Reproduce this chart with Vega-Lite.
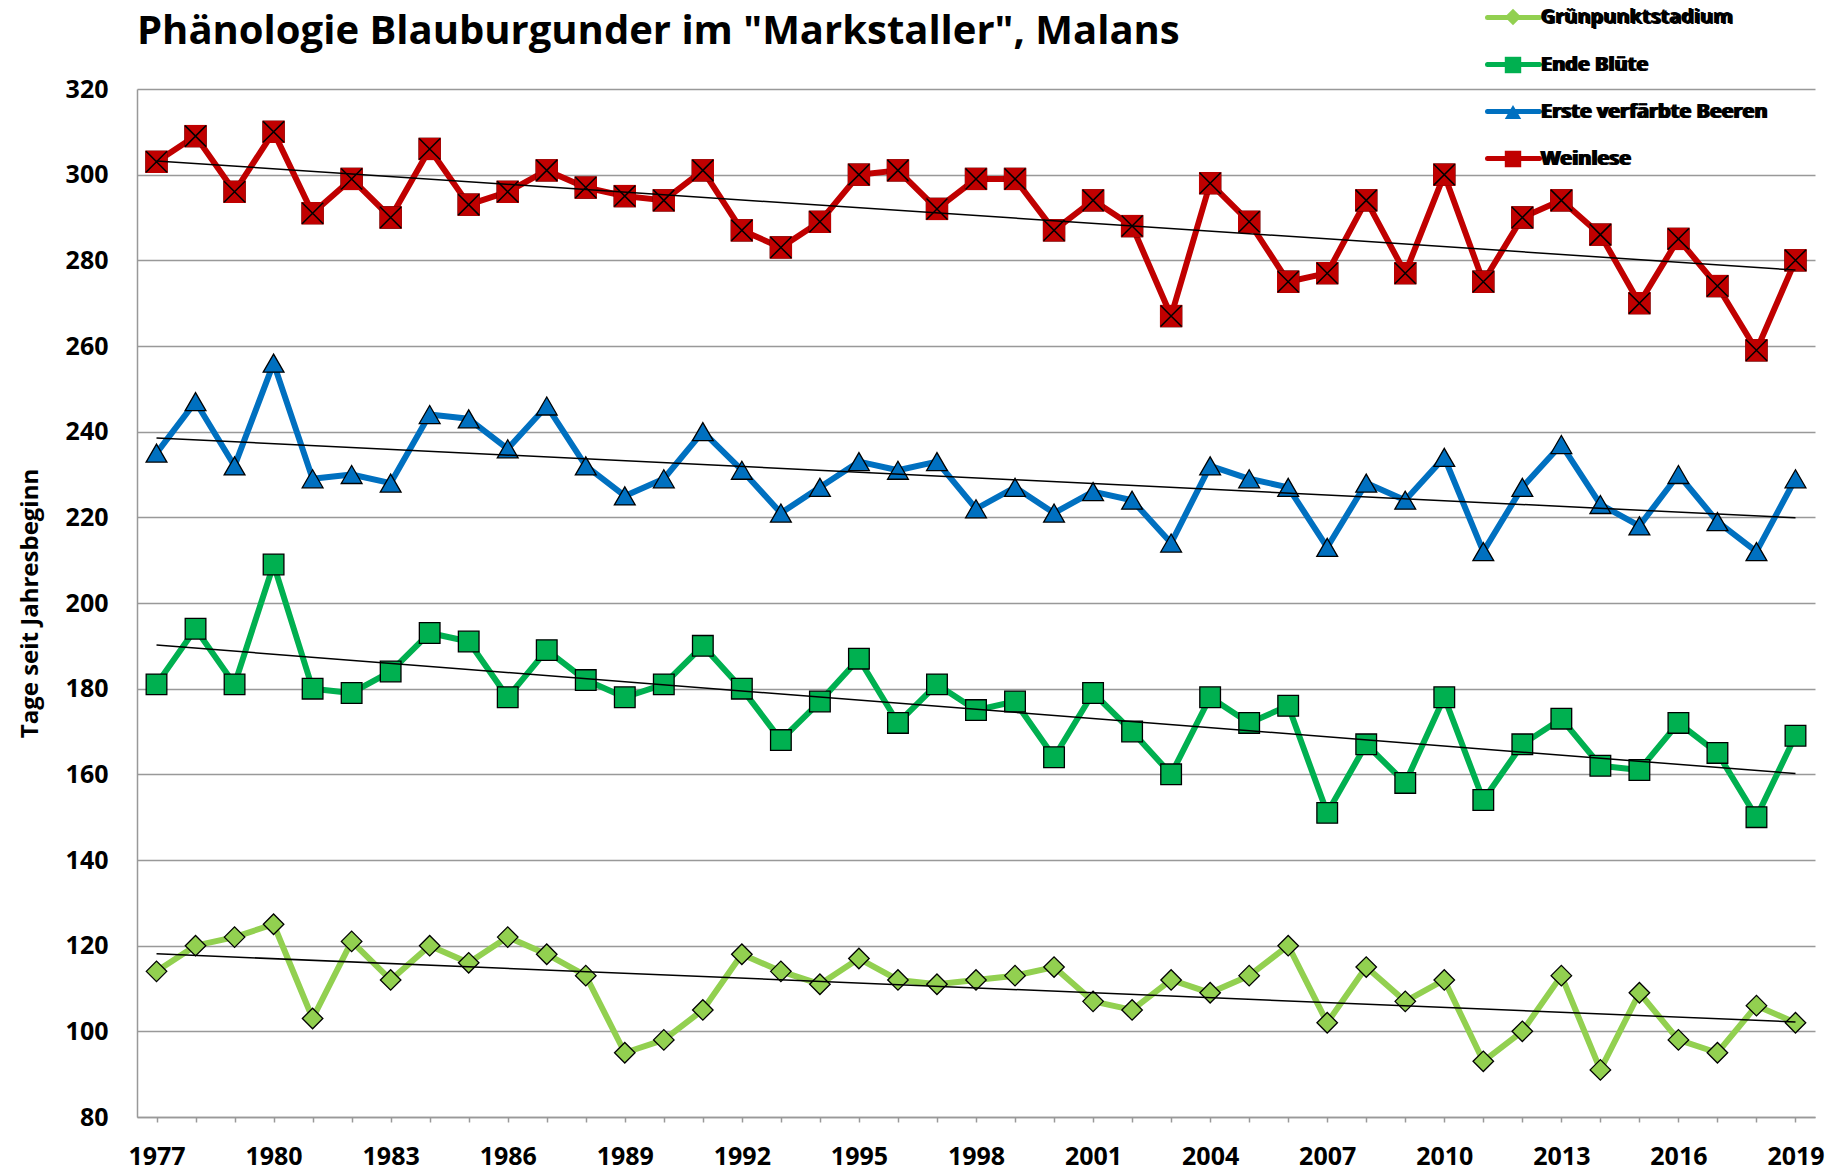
{
  "$schema": "https://vega.github.io/schema/vega-lite/v6.json",
  "width": 1678,
  "height": 1028,
  "autosize": {"type": "none"},
  "padding": {"left": 137, "top": 89, "right": 25, "bottom": 56},
  "background": "white",
  "title": {
    "text": "Phänologie Blauburgunder im \"Markstaller\", Malans",
    "anchor": "start",
    "frame": "group",
    "font": "Open Sans",
    "fontSize": 40,
    "fontWeight": "bold",
    "color": "#000000",
    "baseline": "alphabetic",
    "offset": 0,
    "dy": 95
  },
  "config": {
    "view": {"stroke": null},
    "axis": {"labelColor": "#000000", "titleColor": "#000000"}
  },
  "data": {"values": [
    {"Jahr":1977,"Stadium":"Grünpunktstadium","Tage":114},{"Jahr":1978,"Stadium":"Grünpunktstadium","Tage":120},{"Jahr":1979,"Stadium":"Grünpunktstadium","Tage":122},{"Jahr":1980,"Stadium":"Grünpunktstadium","Tage":125},{"Jahr":1981,"Stadium":"Grünpunktstadium","Tage":103},{"Jahr":1982,"Stadium":"Grünpunktstadium","Tage":121},{"Jahr":1983,"Stadium":"Grünpunktstadium","Tage":112},{"Jahr":1984,"Stadium":"Grünpunktstadium","Tage":120},{"Jahr":1985,"Stadium":"Grünpunktstadium","Tage":116},{"Jahr":1986,"Stadium":"Grünpunktstadium","Tage":122},{"Jahr":1987,"Stadium":"Grünpunktstadium","Tage":118},{"Jahr":1988,"Stadium":"Grünpunktstadium","Tage":113},{"Jahr":1989,"Stadium":"Grünpunktstadium","Tage":95},{"Jahr":1990,"Stadium":"Grünpunktstadium","Tage":98},{"Jahr":1991,"Stadium":"Grünpunktstadium","Tage":105},{"Jahr":1992,"Stadium":"Grünpunktstadium","Tage":118},{"Jahr":1993,"Stadium":"Grünpunktstadium","Tage":114},{"Jahr":1994,"Stadium":"Grünpunktstadium","Tage":111},{"Jahr":1995,"Stadium":"Grünpunktstadium","Tage":117},{"Jahr":1996,"Stadium":"Grünpunktstadium","Tage":112},{"Jahr":1997,"Stadium":"Grünpunktstadium","Tage":111},{"Jahr":1998,"Stadium":"Grünpunktstadium","Tage":112},{"Jahr":1999,"Stadium":"Grünpunktstadium","Tage":113},{"Jahr":2000,"Stadium":"Grünpunktstadium","Tage":115},{"Jahr":2001,"Stadium":"Grünpunktstadium","Tage":107},{"Jahr":2002,"Stadium":"Grünpunktstadium","Tage":105},{"Jahr":2003,"Stadium":"Grünpunktstadium","Tage":112},{"Jahr":2004,"Stadium":"Grünpunktstadium","Tage":109},{"Jahr":2005,"Stadium":"Grünpunktstadium","Tage":113},{"Jahr":2006,"Stadium":"Grünpunktstadium","Tage":120},{"Jahr":2007,"Stadium":"Grünpunktstadium","Tage":102},{"Jahr":2008,"Stadium":"Grünpunktstadium","Tage":115},{"Jahr":2009,"Stadium":"Grünpunktstadium","Tage":107},{"Jahr":2010,"Stadium":"Grünpunktstadium","Tage":112},{"Jahr":2011,"Stadium":"Grünpunktstadium","Tage":93},{"Jahr":2012,"Stadium":"Grünpunktstadium","Tage":100},{"Jahr":2013,"Stadium":"Grünpunktstadium","Tage":113},{"Jahr":2014,"Stadium":"Grünpunktstadium","Tage":91},{"Jahr":2015,"Stadium":"Grünpunktstadium","Tage":109},{"Jahr":2016,"Stadium":"Grünpunktstadium","Tage":98},{"Jahr":2017,"Stadium":"Grünpunktstadium","Tage":95},{"Jahr":2018,"Stadium":"Grünpunktstadium","Tage":106},{"Jahr":2019,"Stadium":"Grünpunktstadium","Tage":102},
    {"Jahr":1977,"Stadium":"Ende Blüte","Tage":181},{"Jahr":1978,"Stadium":"Ende Blüte","Tage":194},{"Jahr":1979,"Stadium":"Ende Blüte","Tage":181},{"Jahr":1980,"Stadium":"Ende Blüte","Tage":209},{"Jahr":1981,"Stadium":"Ende Blüte","Tage":180},{"Jahr":1982,"Stadium":"Ende Blüte","Tage":179},{"Jahr":1983,"Stadium":"Ende Blüte","Tage":184},{"Jahr":1984,"Stadium":"Ende Blüte","Tage":193},{"Jahr":1985,"Stadium":"Ende Blüte","Tage":191},{"Jahr":1986,"Stadium":"Ende Blüte","Tage":178},{"Jahr":1987,"Stadium":"Ende Blüte","Tage":189},{"Jahr":1988,"Stadium":"Ende Blüte","Tage":182},{"Jahr":1989,"Stadium":"Ende Blüte","Tage":178},{"Jahr":1990,"Stadium":"Ende Blüte","Tage":181},{"Jahr":1991,"Stadium":"Ende Blüte","Tage":190},{"Jahr":1992,"Stadium":"Ende Blüte","Tage":180},{"Jahr":1993,"Stadium":"Ende Blüte","Tage":168},{"Jahr":1994,"Stadium":"Ende Blüte","Tage":177},{"Jahr":1995,"Stadium":"Ende Blüte","Tage":187},{"Jahr":1996,"Stadium":"Ende Blüte","Tage":172},{"Jahr":1997,"Stadium":"Ende Blüte","Tage":181},{"Jahr":1998,"Stadium":"Ende Blüte","Tage":175},{"Jahr":1999,"Stadium":"Ende Blüte","Tage":177},{"Jahr":2000,"Stadium":"Ende Blüte","Tage":164},{"Jahr":2001,"Stadium":"Ende Blüte","Tage":179},{"Jahr":2002,"Stadium":"Ende Blüte","Tage":170},{"Jahr":2003,"Stadium":"Ende Blüte","Tage":160},{"Jahr":2004,"Stadium":"Ende Blüte","Tage":178},{"Jahr":2005,"Stadium":"Ende Blüte","Tage":172},{"Jahr":2006,"Stadium":"Ende Blüte","Tage":176},{"Jahr":2007,"Stadium":"Ende Blüte","Tage":151},{"Jahr":2008,"Stadium":"Ende Blüte","Tage":167},{"Jahr":2009,"Stadium":"Ende Blüte","Tage":158},{"Jahr":2010,"Stadium":"Ende Blüte","Tage":178},{"Jahr":2011,"Stadium":"Ende Blüte","Tage":154},{"Jahr":2012,"Stadium":"Ende Blüte","Tage":167},{"Jahr":2013,"Stadium":"Ende Blüte","Tage":173},{"Jahr":2014,"Stadium":"Ende Blüte","Tage":162},{"Jahr":2015,"Stadium":"Ende Blüte","Tage":161},{"Jahr":2016,"Stadium":"Ende Blüte","Tage":172},{"Jahr":2017,"Stadium":"Ende Blüte","Tage":165},{"Jahr":2018,"Stadium":"Ende Blüte","Tage":150},{"Jahr":2019,"Stadium":"Ende Blüte","Tage":169},
    {"Jahr":1977,"Stadium":"Erste verfärbte Beeren","Tage":235},{"Jahr":1978,"Stadium":"Erste verfärbte Beeren","Tage":247},{"Jahr":1979,"Stadium":"Erste verfärbte Beeren","Tage":232},{"Jahr":1980,"Stadium":"Erste verfärbte Beeren","Tage":256},{"Jahr":1981,"Stadium":"Erste verfärbte Beeren","Tage":229},{"Jahr":1982,"Stadium":"Erste verfärbte Beeren","Tage":230},{"Jahr":1983,"Stadium":"Erste verfärbte Beeren","Tage":228},{"Jahr":1984,"Stadium":"Erste verfärbte Beeren","Tage":244},{"Jahr":1985,"Stadium":"Erste verfärbte Beeren","Tage":243},{"Jahr":1986,"Stadium":"Erste verfärbte Beeren","Tage":236},{"Jahr":1987,"Stadium":"Erste verfärbte Beeren","Tage":246},{"Jahr":1988,"Stadium":"Erste verfärbte Beeren","Tage":232},{"Jahr":1989,"Stadium":"Erste verfärbte Beeren","Tage":225},{"Jahr":1990,"Stadium":"Erste verfärbte Beeren","Tage":229},{"Jahr":1991,"Stadium":"Erste verfärbte Beeren","Tage":240},{"Jahr":1992,"Stadium":"Erste verfärbte Beeren","Tage":231},{"Jahr":1993,"Stadium":"Erste verfärbte Beeren","Tage":221},{"Jahr":1994,"Stadium":"Erste verfärbte Beeren","Tage":227},{"Jahr":1995,"Stadium":"Erste verfärbte Beeren","Tage":233},{"Jahr":1996,"Stadium":"Erste verfärbte Beeren","Tage":231},{"Jahr":1997,"Stadium":"Erste verfärbte Beeren","Tage":233},{"Jahr":1998,"Stadium":"Erste verfärbte Beeren","Tage":222},{"Jahr":1999,"Stadium":"Erste verfärbte Beeren","Tage":227},{"Jahr":2000,"Stadium":"Erste verfärbte Beeren","Tage":221},{"Jahr":2001,"Stadium":"Erste verfärbte Beeren","Tage":226},{"Jahr":2002,"Stadium":"Erste verfärbte Beeren","Tage":224},{"Jahr":2003,"Stadium":"Erste verfärbte Beeren","Tage":214},{"Jahr":2004,"Stadium":"Erste verfärbte Beeren","Tage":232},{"Jahr":2005,"Stadium":"Erste verfärbte Beeren","Tage":229},{"Jahr":2006,"Stadium":"Erste verfärbte Beeren","Tage":227},{"Jahr":2007,"Stadium":"Erste verfärbte Beeren","Tage":213},{"Jahr":2008,"Stadium":"Erste verfärbte Beeren","Tage":228},{"Jahr":2009,"Stadium":"Erste verfärbte Beeren","Tage":224},{"Jahr":2010,"Stadium":"Erste verfärbte Beeren","Tage":234},{"Jahr":2011,"Stadium":"Erste verfärbte Beeren","Tage":212},{"Jahr":2012,"Stadium":"Erste verfärbte Beeren","Tage":227},{"Jahr":2013,"Stadium":"Erste verfärbte Beeren","Tage":237},{"Jahr":2014,"Stadium":"Erste verfärbte Beeren","Tage":223},{"Jahr":2015,"Stadium":"Erste verfärbte Beeren","Tage":218},{"Jahr":2016,"Stadium":"Erste verfärbte Beeren","Tage":230},{"Jahr":2017,"Stadium":"Erste verfärbte Beeren","Tage":219},{"Jahr":2018,"Stadium":"Erste verfärbte Beeren","Tage":212},{"Jahr":2019,"Stadium":"Erste verfärbte Beeren","Tage":229},
    {"Jahr":1977,"Stadium":"Weinlese","Tage":303},{"Jahr":1978,"Stadium":"Weinlese","Tage":309},{"Jahr":1979,"Stadium":"Weinlese","Tage":296},{"Jahr":1980,"Stadium":"Weinlese","Tage":310},{"Jahr":1981,"Stadium":"Weinlese","Tage":291},{"Jahr":1982,"Stadium":"Weinlese","Tage":299},{"Jahr":1983,"Stadium":"Weinlese","Tage":290},{"Jahr":1984,"Stadium":"Weinlese","Tage":306},{"Jahr":1985,"Stadium":"Weinlese","Tage":293},{"Jahr":1986,"Stadium":"Weinlese","Tage":296},{"Jahr":1987,"Stadium":"Weinlese","Tage":301},{"Jahr":1988,"Stadium":"Weinlese","Tage":297},{"Jahr":1989,"Stadium":"Weinlese","Tage":295},{"Jahr":1990,"Stadium":"Weinlese","Tage":294},{"Jahr":1991,"Stadium":"Weinlese","Tage":301},{"Jahr":1992,"Stadium":"Weinlese","Tage":287},{"Jahr":1993,"Stadium":"Weinlese","Tage":283},{"Jahr":1994,"Stadium":"Weinlese","Tage":289},{"Jahr":1995,"Stadium":"Weinlese","Tage":300},{"Jahr":1996,"Stadium":"Weinlese","Tage":301},{"Jahr":1997,"Stadium":"Weinlese","Tage":292},{"Jahr":1998,"Stadium":"Weinlese","Tage":299},{"Jahr":1999,"Stadium":"Weinlese","Tage":299},{"Jahr":2000,"Stadium":"Weinlese","Tage":287},{"Jahr":2001,"Stadium":"Weinlese","Tage":294},{"Jahr":2002,"Stadium":"Weinlese","Tage":288},{"Jahr":2003,"Stadium":"Weinlese","Tage":267},{"Jahr":2004,"Stadium":"Weinlese","Tage":298},{"Jahr":2005,"Stadium":"Weinlese","Tage":289},{"Jahr":2006,"Stadium":"Weinlese","Tage":275},{"Jahr":2007,"Stadium":"Weinlese","Tage":277},{"Jahr":2008,"Stadium":"Weinlese","Tage":294},{"Jahr":2009,"Stadium":"Weinlese","Tage":277},{"Jahr":2010,"Stadium":"Weinlese","Tage":300},{"Jahr":2011,"Stadium":"Weinlese","Tage":275},{"Jahr":2012,"Stadium":"Weinlese","Tage":290},{"Jahr":2013,"Stadium":"Weinlese","Tage":294},{"Jahr":2014,"Stadium":"Weinlese","Tage":286},{"Jahr":2015,"Stadium":"Weinlese","Tage":270},{"Jahr":2016,"Stadium":"Weinlese","Tage":285},{"Jahr":2017,"Stadium":"Weinlese","Tage":274},{"Jahr":2018,"Stadium":"Weinlese","Tage":259},{"Jahr":2019,"Stadium":"Weinlese","Tage":280}
  ]},
  "encoding": {
    "x": {
      "field": "Jahr", "type": "ordinal",
      "scale": {"type": "point", "padding": 0.5},
      "axis": {
        "title": null, "labelAngle": 0, "labelOverlap": false,
        "labelExpr": "(datum.value - 1977) % 3 == 0 ? datum.label : ''",
        "labelFont": "Open Sans", "labelFontSize": 25, "labelFontWeight": "bold",
        "tickSize": 5, "tickColor": "#999999", "tickWidth": 1.5,
        "domainColor": "#999999", "domainWidth": 1.5,
        "labelPadding": 22, "grid": false
      }
    },
    "y": {
      "field": "Tage", "type": "quantitative",
      "scale": {"domain": [80, 320], "nice": false},
      "axis": {
        "values": [80,100,120,140,160,180,200,220,240,260,280,300,320],
        "grid": true, "gridColor": "#999999", "gridWidth": 1.5,
        "domainColor": "#999999", "domainWidth": 1.5,
        "tickSize": 0, "labelPadding": 29,
        "labelFont": "Open Sans", "labelFontSize": 25, "labelFontWeight": "bold",
        "title": "Tage seit Jahresbeginn",
        "titleFont": "Open Sans", "titleFontSize": 24, "titleFontWeight": "bold",
        "titlePadding": 23
      }
    }
  },
  "layer": [
    {
      "mark": {"type": "line", "strokeWidth": 6, "strokeJoin": "round", "strokeCap": "round"},
      "encoding": {
        "color": {
          "field": "Stadium", "type": "nominal",
          "sort": null,
          "scale": {"range": ["#92D050", "#00B050", "#0070C0", "#C00000"]},
          "legend": {
            "orient": "none", "legendX": 1348, "legendY": -100,
            "title": null, "padding": 0,
            "symbolType": "stroke", "symbolSize": 2704, "symbolStrokeWidth": 5,
            "labelFont": "Open Sans", "labelFontSize": 20, "labelFontWeight": "bold", "labelColor": "#000000",
            "labelLimit": 500, "labelOffset": 0, "rowPadding": 8,
            "encode": {"symbols": {"update": {"strokeCap": {"value": "round"}}}}
          }
        }
      }
    },
    {
      "mark": {"type": "point", "filled": true, "stroke": "#000000", "strokeWidth": 1.3, "opacity": 1},
      "encoding": {
        "shape": {
          "field": "Stadium", "type": "nominal",
          "scale": {
            "domain": ["Grünpunktstadium", "Ende Blüte", "Erste verfärbte Beeren", "Weinlese"],
            "range": ["diamond", "square", "triangle-up", "M-1,-1H1V1H-1Z M-1,-1L1,1 M1,-1L-1,1"]
          },
          "legend": {
            "orient": "none", "legendX": 1366, "legendY": -82,
            "title": null, "padding": 0,
            "symbolSize": 270, "symbolStrokeColor": "#000000", "symbolStrokeWidth": 1.3,
            "labelFont": "Open Sans", "labelFontSize": 20, "labelFontWeight": "bold", "labelColor": "#000000",
            "labelLimit": 500, "labelOffset": 17, "rowPadding": 26
          }
        },
        "fill": {
          "field": "Stadium", "type": "nominal",
          "scale": {
            "domain": ["Grünpunktstadium", "Ende Blüte", "Erste verfärbte Beeren", "Weinlese"],
            "range": ["#92D050", "#00B050", "#0070C0", "#C00000"]
          }
        },
        "size": {
          "field": "Stadium", "type": "nominal",
          "scale": {
            "domain": ["Weinlese", "Erste verfärbte Beeren", "Ende Blüte", "Grünpunktstadium"],
            "range": [440, 420, 380, 300]
          },
          "legend": null
        }
      }
    },
    {
      "transform": [{"filter": "datum.Stadium == 'Weinlese'"}],
      "mark": {"type": "point", "shape": "square", "filled": true, "color": "#C00000", "strokeWidth": 0, "size": 500, "opacity": 1}
    },
    {
      "transform": [{"filter": "datum.Stadium == 'Weinlese'"}],
      "mark": {"type": "point", "shape": "M-1,-1L1,1 M1,-1L-1,1", "filled": false, "stroke": "#000000", "strokeWidth": 1.5, "size": 440, "opacity": 1}
    },
    {
      "transform": [{"regression": "Tage", "on": "Jahr", "groupby": ["Stadium"]}],
      "mark": {"type": "line", "color": "#000000", "strokeWidth": 1.5},
      "encoding": {"detail": {"field": "Stadium", "type": "nominal"}}
    }
  ]
}
